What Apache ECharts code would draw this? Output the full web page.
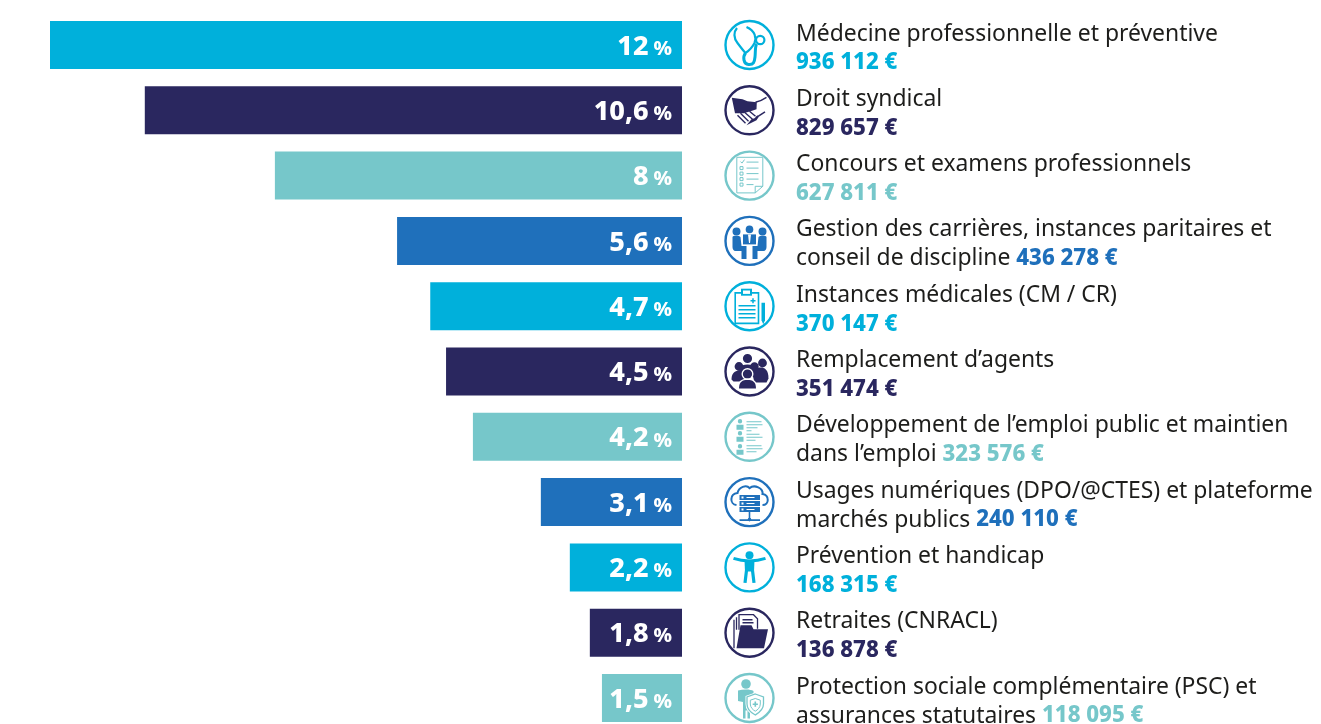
<!DOCTYPE html>
<html>
<head>
<meta charset="utf-8">
<title>Répartition des dépenses</title>
<style>
    html, body { margin: 0; padding: 0; width: 1321px; height: 724px; background: #fff; overflow: hidden; }
    #main { width: 1321px; height: 760px; }
</style>
<script src="https://cdn.jsdelivr.net/npm/echarts@6/dist/echarts.min.js"></script>
</head>
<body>
<div id="main"></div>
<script>
// bar lengths as drawn in the picture (they do not follow the printed percentages exactly)
var barLengths = [12, 10.2, 7.73, 5.41, 4.78, 4.48, 3.97, 2.68, 2.13, 1.75, 1.52];
var percentLabels = ['12', '10,6', '8', '5,6', '4,7', '4,5', '4,2', '3,1', '2,2', '1,8', '1,5'];
var amounts = ['936 112 €', '829 657 €', '627 811 €', '436 278 €', '370 147 €', '351 474 €', '323 576 €', '240 110 €', '168 315 €', '136 878 €', '118 095 €'];
var firstLines = [
    'Médecine professionnelle et préventive',
    'Droit syndical',
    'Concours et examens professionnels',
    'Gestion des carrières, instances paritaires et',
    'Instances médicales (CM / CR)',
    'Remplacement d’agents',
    'Développement de l’emploi public et maintien',
    'Usages numériques (DPO/@CTES) et plateforme',
    'Prévention et handicap',
    'Retraites (CNRACL)',
    'Protection sociale complémentaire (PSC) et'
];
var secondLines = ['', '', '', 'conseil de discipline ', '', '', 'dans l’emploi ', 'marchés publics ', '', '', 'assurances statutaires '];
var palette = { a: '#00b0db', b: '#2a275f', c: '#76c7ca', d: '#1f70bb' };
var rowColors = ['a', 'b', 'c', 'd', 'a', 'b', 'c', 'd', 'a', 'b', 'c'];

var rows = barLengths.map(function (v, i) { return i; });
var FONT = '"Noto Sans", sans-serif';

function circlePath(x, y, r) {
    return 'M' + (x - r) + ' ' + y + 'A' + r + ' ' + r + ' 0 1 0 ' + (x + r) + ' ' + y + 'A' + r + ' ' + r + ' 0 1 0 ' + (x - r) + ' ' + y + 'Z';
}
function rectPath(x, y, w, h) {
    return 'M' + x + ' ' + y + 'h' + w + 'v' + h + 'h' + (-w) + 'Z';
}
function F(d) { return { d: d, mode: 'fill' }; }
function S(d, w) { return { d: d, mode: 'stroke', w: w || 1 }; }
function W(d) { return { d: d, mode: 'white' }; }
function WS(d, w) { return { d: d, mode: 'whiteStroke', w: w || 1 }; }

// pictograms, one list of parts per row, in a box of +-25 around the icon centre
var iconParts = [
    [
        S('M-12.5 -17C-16 -13 -16 -7 -12 -2C-9 2 -6 6 -4 8C-1 6 3 2 5 -2C7 -7 6 -14 -3 -18', 2.2),
        S('M-4 8C-7 12 -6 19 -1 19.5C4 20 5 17 5.5 12C6 8 5.5 2 7 -1', 3),
        S(circlePath(10.7, -5, 4.2), 2.2)
    ],
    [
        F('M-17.7 -12.5L-7 -11L-2 -9L7.3 -8L7 -1L1 1L-6 3L-14.5 3Z'),
        S('M6 -8C10 -9 14 -11 17 -13', 1.4),
        S('M-12 5L-4 13M-9 3L-1 11M-5 2L3 9M0 1L6 6', 1.4),
        F('M-3 15L2 9L5 8L8 5L9 7L7 10L3 12Z'),
        S('M7 7L15.5 1.5', 1.5)
    ],
    [
        S('M-12.7 -18.3H13.3V10.7L5.7 17.3H-12.7Z', 1),
        S('M5.7 17.3V10.7H13.3', 1),
        S('M-9 -14L-7.5 -12.5L-5 -16', 1),
        S(rectPath(-9.5, -9, 3, 3) + rectPath(-9.5, -3.5, 3, 3) + rectPath(-9.5, 2, 3, 3) + rectPath(-9.5, 7.5, 3, 3), 1),
        S('M-3 -13.5H9M-3 -7.5H9M-3 -2H9M-3 3.5H9M-3 9H4', 1)
    ],
    [
        F(circlePath(0, -11.5, 3.8)),
        F('M-6.5 -6.5H6.5V3.5H-6.5Z'),
        W('M-1.5 -6.5H1.5L0.5 2H-0.5Z'),
        F(circlePath(-13, -9.5, 4) + circlePath(13, -9.5, 4)),
        F('M-17 -4C-17 -5.5 -10 -5.5 -9 -4L-8 5H-3V18H-8V10H-14C-16 10 -17 8 -17 6Z'),
        F('M17 -4C17 -5.5 10 -5.5 9 -4L8 5H3V18H8V10H14C16 10 17 8 17 6Z')
    ],
    [
        S(rectPath(-14.3, -13.3, 23.3, 30.5), 1.6),
        F(rectPath(-8.5, -17.5, 11, 7)),
        W(rectPath(-6.5, -15.7, 7, 3.4)),
        S('M1 -5.5H6M3.5 -8V-3', 1.5),
        S('M-11 -0.5H6M-11 3.5H6M-11 7.5H6M-11 11.5H6', 1.4),
        F('M12 -3.5H15.5V14L13.75 18L12 14Z')
    ],
    [
        F(circlePath(-2, -13, 4.6) + circlePath(-10.5, -5, 4.4) + circlePath(13, -8.5, 4.4) + circlePath(5, -5, 4.2)),
        F('M-18 8C-18 0 -13 -1 -9 -1C-6 -1 -4 1 -4 4V10H-16Z'),
        F('M19 7C19 -2 15 -4 11 -4C6 -4 3 -2 3 3L5 11H17Z'),
        F('M-10 -4C-8 -8 4 -8 6 -4V5H-10Z'),
        WS(circlePath(-2, 2.5, 5), 2),
        F(circlePath(-2, 2.5, 4.6)),
        WS('M-11 17C-11 10 -7 8 -2 8C3 8 7 10 7 17Z', 2),
        F('M-10.5 17C-10.5 10 -7 8.5 -2 8.5C3 8.5 6.5 10 6.5 17Z')
    ],
    [
        F(circlePath(-9.5, -15.5, 2.2) + circlePath(-9.5, -3.5, 2.2) + circlePath(-9.5, 9.5, 2.2)),
        F(rectPath(-13, -12, 7, 5) + rectPath(-13, 0, 7, 5) + rectPath(-13, 13, 7, 5)),
        S('M-3 -15H12M-3 -12H13M-3 -9H8M-3 -6H2M-3 -2.5H10M-3 0.5H13M-3 3.5H6M-3 9H12M-3 12H13M-3 15H7', 1.1)
    ],
    [
        S('M-13 3C-20 2 -20 -8 -12 -9C-11 -15 -3 -18 0 -14C5 -18 14 -14 13 -8C20 -7 20 3 13 3', 2),
        F(rectPath(-10, -7, 20.5, 5) + rectPath(-10, -1, 20.5, 5) + rectPath(-10, 5, 20.5, 5)),
        W(rectPath(-8, -5.5, 2, 2) + rectPath(-8, 0.5, 2, 2) + rectPath(-8, 6.5, 2, 2) + rectPath(-3, -5, 8, 1) + rectPath(-3, 1, 8, 1) + rectPath(-3, 7, 8, 1)),
        S('M0 10V17M-10 18H10.5', 1.6),
        F(circlePath(0, 17.5, 1.8))
    ],
    [
        F(circlePath(0, -12.2, 4)),
        S('M-16 -9C-10 -7 -6 -6.5 0 -6.5C6 -6.5 10 -7 16 -9', 3),
        F('M-5 -7H5L4.5 4H-4.5Z'),
        S('M-3 3L-4.5 15.5M3 3L4.5 15.5', 3.2)
    ],
    [
        S('M-15.5 -13V15.5M-13 -15.5V-3', 1.3),
        S('M-10.5 -3V-18H4L8 -14V-4', 1.3),
        S('M-7 -13H3M-7 -10H4', 1.4),
        F('M-9 -7.5H2L4 -3.5H18.5L14.5 15.5H-13Z')
    ],
    [
        F(circlePath(-3.5, -14, 4.8)),
        F('M-11.5 -7.5C-6 -9 1 -9 4 -7V0L0.5 12V20.5H-2V12.5H-4V20.5H-6.5V4L-11.5 3Z'),
        WS('M5.8 -4L14 -1V6C14 12 9 15 5.8 17C2 15 -2.5 12 -2.5 6V-1Z', 3),
        W('M5.8 -4L14 -1V6C14 12 9 15 5.8 17C2 15 -2.5 12 -2.5 6V-1Z'),
        S('M5.8 -4L14 -1V6C14 12 9 15 5.8 17C2 15 -2.5 12 -2.5 6V-1Z', 1.3),
        S('M5.8 0.5L10.8 2.2V6C10.8 9.5 8 12 5.8 13.2C3.5 12 0.8 9.5 0.8 6V2.2Z', 1),
        S('M3.2 6.2H8.4M5.8 3.6V8.8', 1.6)
    ]
];

// zero-length moves keep the path box at +-25 so parts are not rescaled
var BOX = 'M-25 -25L-25 -25M25 25L25 25';

function renderIcon(params, api) {
    var i = api.value(1);
    var c = api.coord([0, i]);
    var col = palette[rowColors[i]];
    var children = [{
        type: 'circle',
        shape: { cx: 0, cy: 0, r: 24 },
        style: { fill: '#fff', stroke: col, lineWidth: 2.4 }
    }];
    iconParts[i].forEach(function (part) {
        var style;
        if (part.mode === 'fill') style = { fill: col };
        else if (part.mode === 'white') style = { fill: '#fff' };
        else if (part.mode === 'whiteStroke') style = { fill: 'none', stroke: '#fff', lineWidth: part.w };
        else style = { fill: 'none', stroke: col, lineWidth: part.w };
        children.push({
            type: 'path',
            shape: { pathData: BOX + part.d, x: -25, y: -25, width: 50, height: 50, layout: 'cover' },
            style: style
        });
    });
    return { type: 'group', x: c[0], y: c[1], children: children };
}

var textRich = {
    t: { fontFamily: FONT, fontSize: 22.9, color: '#1d1d1b', lineHeight: 29 }
};
Object.keys(palette).forEach(function (k) {
    textRich[k] = { fontFamily: FONT, fontSize: 22.2, fontWeight: 800, color: palette[k], lineHeight: 29 };
});

var chart = echarts.init(document.getElementById('main'));
chart.setOption({
    animation: false,
    grid: [
        { left: 50, top: 12.35, width: 632, height: 718.3 },
        { left: 749.5, top: 12.35, width: 500, height: 718.3 }
    ],
    xAxis: [
        { gridIndex: 0, type: 'value', min: 0, max: 12, inverse: true, show: false },
        { gridIndex: 1, type: 'value', min: 0, max: 1, show: false }
    ],
    yAxis: [
        { gridIndex: 0, type: 'category', data: rows, inverse: true, show: false },
        { gridIndex: 1, type: 'category', data: rows, inverse: true, show: false }
    ],
    series: [
        {
            type: 'bar',
            barWidth: 48,
            data: barLengths.map(function (v, i) {
                return { value: v, itemStyle: { color: palette[rowColors[i]] } };
            }),
            label: {
                show: true,
                position: 'insideRight',
                distance: 10,
                offset: [0, 2],
                formatter: function (p) {
                    return '{n|' + percentLabels[p.dataIndex] + '}{p|%}';
                },
                rich: {
                    n: { fontFamily: FONT, fontSize: 27, fontWeight: 800, color: '#fff' },
                    p: { fontFamily: FONT, fontSize: 20, fontWeight: 800, color: '#fff', padding: [4, 0, 0, 5] }
                }
            }
        },
        {
            type: 'custom',
            xAxisIndex: 1,
            yAxisIndex: 1,
            coordinateSystem: 'cartesian2d',
            renderItem: renderIcon,
            encode: { x: 0, y: 1 },
            data: rows.map(function (i) { return [0, i]; })
        },
        {
            type: 'scatter',
            xAxisIndex: 1,
            yAxisIndex: 1,
            symbolSize: 0,
            itemStyle: { opacity: 1 },
            data: rows.map(function (i) { return [0, i]; }),
            label: {
                show: true,
                position: 'right',
                distance: 46.5,
                align: 'left',
                offset: [0, 3.5],
                formatter: function (p) {
                    var i = p.dataIndex;
                    return '{t|' + firstLines[i] + '}\n' +
                        (secondLines[i] ? '{t|' + secondLines[i] + '}' : '') +
                        '{' + rowColors[i] + '|' + amounts[i] + '}';
                },
                rich: textRich
            }
        }
    ]
});
</script>
</body>
</html>
